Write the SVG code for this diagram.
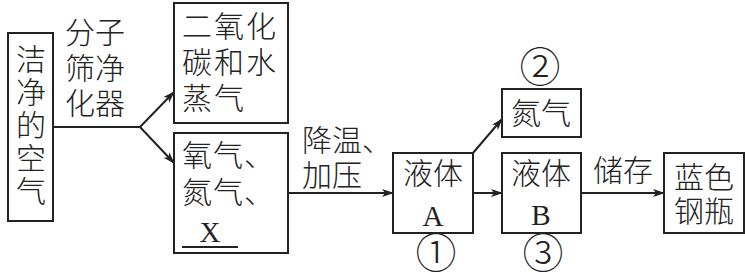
<svg xmlns="http://www.w3.org/2000/svg" width="745" height="277" viewBox="0 0 745 277">
<style>
.box{fill:#fff;stroke:#222;stroke-width:2}
.t{font-family:"Noto Sans CJK SC","Noto Sans CJK JP",sans-serif;font-size:30px;font-weight:300;fill:#222}
.s{font-family:"Liberation Serif",serif;font-size:29px;fill:#222}
.c{font-family:"Noto Sans CJK SC",sans-serif;font-size:41px;font-weight:300;fill:#222;text-anchor:middle}
.m{text-anchor:middle}
.ln{stroke:#222;stroke-width:2;fill:none}
</style>
<defs>
<marker id="ah" markerWidth="12" markerHeight="10" refX="11" refY="5" orient="auto" markerUnits="userSpaceOnUse">
<path d="M0,1 L12,5 L0,9 L3,5 Z" fill="#222"/>
</marker>
</defs>
<rect width="745" height="277" fill="#fff"/>
<g id="connectors">
<path class="ln" d="M53,127 L140,127"/>
<path class="ln" d="M140,127 L174,92" marker-end="url(#ah)"/>
<path class="ln" d="M140,127 L174,163" marker-end="url(#ah)"/>
<path class="ln" d="M288,193 L393,193" marker-end="url(#ah)"/>
<path class="ln" d="M473,153 L502,119" marker-end="url(#ah)"/>
<path class="ln" d="M473,193 L502,193" marker-end="url(#ah)"/>
<path class="ln" d="M581,193 L664,193" marker-end="url(#ah)"/>
<text class="t" x="65" y="43">分子</text>
<text class="t" x="65" y="79">筛净</text>
<text class="t" x="65" y="114">化器</text>
<text class="t" x="302" y="151">降温、</text>
<text class="t" x="302" y="186">加压</text>
<text class="t m" x="623" y="181">储存</text>
</g>
<g id="air">
<rect class="box" x="8" y="33" width="45" height="188"/>
<text class="t m" x="31" y="70" font-size="29">洁</text>
<text class="t m" x="31" y="103" font-size="29">净</text>
<text class="t m" x="31" y="136" font-size="29">的</text>
<text class="t m" x="31" y="169" font-size="29">空</text>
<text class="t m" x="31" y="202" font-size="29">气</text>
</g>
<g id="co2">
<rect class="box" x="174" y="3" width="114" height="120"/>
<text class="t" x="182" y="37" letter-spacing="2">二氧化</text>
<text class="t" x="182" y="73" letter-spacing="2">碳和水</text>
<text class="t" x="182" y="109" letter-spacing="2">蒸气</text>
</g>
<g id="mix">
<rect class="box" x="174" y="133" width="114" height="120"/>
<text class="t" x="182" y="166" letter-spacing="1">氧气、</text>
<text class="t" x="182" y="203" letter-spacing="1">氮气、</text>
<text class="s m" x="210" y="242">X</text>
<line class="ln" x1="182" y1="247" x2="238" y2="247"/>
</g>
<g id="liquidA">
<rect class="box" x="393" y="153" width="80" height="80"/>
<text class="t m" x="433" y="184">液体</text>
<text class="s m" x="433" y="226">A</text>
<text class="c" x="436" y="268">①</text>
</g>
<g id="nitrogen">
<rect class="box" x="502" y="89" width="79" height="48"/>
<text class="t m" x="541" y="124">氮气</text>
<text class="c" x="540" y="82">②</text>
</g>
<g id="liquidB">
<rect class="box" x="502" y="153" width="79" height="80"/>
<text class="t m" x="541" y="184">液体</text>
<text class="s m" x="541" y="225">B</text>
<text class="c" x="543" y="268">③</text>
</g>
<g id="cylinder">
<rect class="box" x="664" y="153" width="80" height="80"/>
<text class="t m" x="704" y="188">蓝色</text>
<text class="t m" x="704" y="222">钢瓶</text>
</g>
</svg>
